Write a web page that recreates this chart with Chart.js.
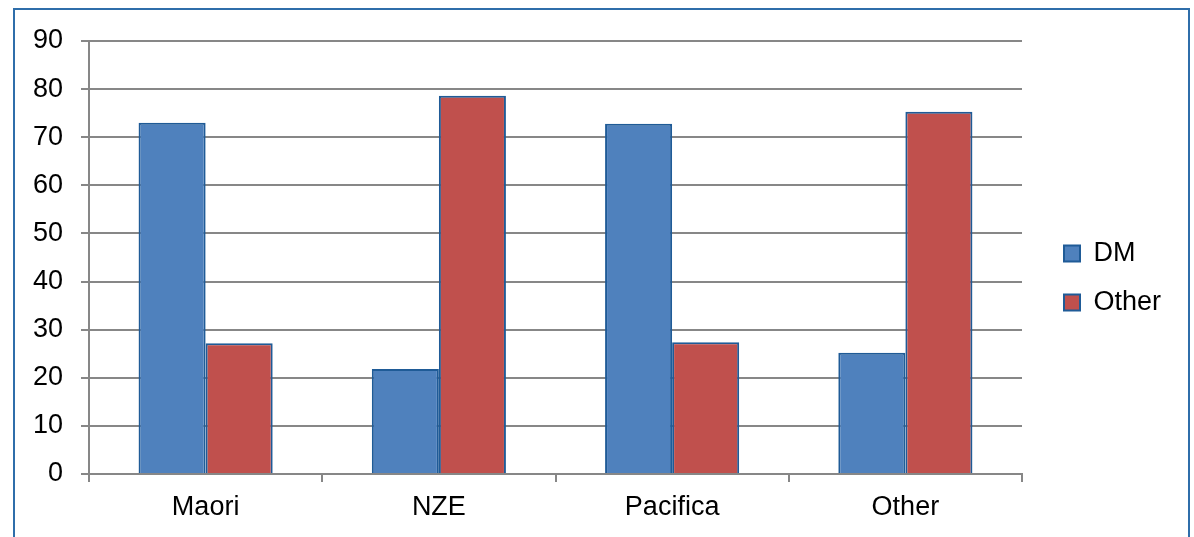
<!DOCTYPE html>
<html><head><meta charset="utf-8">
<script src="https://cdn.jsdelivr.net/npm/chart.js@4.4.1/dist/chart.umd.min.js"></script>
<style>
html,body{margin:0;padding:0;background:#fff;overflow:hidden;}
#frame{position:absolute;left:13px;top:8px;width:1177px;height:600px;border:2px solid #2f6eaa;box-sizing:border-box;}
#wrap{position:absolute;left:0;top:0;width:1194px;height:537px;}
</style></head>
<body>
<div id="frame"></div>
<div id="wrap"><canvas id="c" width="1194" height="537"></canvas></div>
<script>
const categories = ["Maori", "NZE", "Pacifica", "Other"];
const dmValues = [73.0, 21.8, 72.8, 25.2];
const otherValues = [27.2, 78.6, 27.4, 75.3];
const yTicks = [0, 10, 20, 30, 40, 50, 60, 70, 80, 90];

const font = {family: "'Liberation Sans', Arial, sans-serif", size: 27};
const gridColor = '#878787';

const legendShift = {
  id: 'legendShift',
  beforeLayout(chart) {
    const lg = chart.legend;
    if (lg && !lg._patched) {
      const f = lg.fit.bind(lg);
      lg.fit = function () { f(); this.width = 172; };
      lg._patched = true;
    }
  },
  afterLayout(chart) {
    const lg = chart.legend;
    lg.left = chart.chartArea.right + 20;
    lg.top = chart.chartArea.top - 11;
    lg.bottom = lg.top + lg.height;
  }
};

new Chart(document.getElementById('c'), {
  type: 'bar',
  data: {
    labels: categories,
    datasets: [
      {label: 'DM', data: dmValues, backgroundColor: '#4f81bd', borderColor: '#1f5b97', borderWidth: 2},
      {label: 'Other', data: otherValues, backgroundColor: '#c0504d', borderColor: '#1f5b97', borderWidth: 2}
    ]
  },
  options: {
    responsive: false,
    animation: false,
    devicePixelRatio: 1,
    layout: {padding: {top: 41, right: 0, bottom: 0, left: 0}},
    datasets: {bar: {barPercentage: 1, categoryPercentage: 0.575}},
    plugins: {
      tooltip: {enabled: false},
      legend: {
        position: 'right',
        align: 'center',
        labels: {font: font, color: '#000', boxWidth: 16, boxHeight: 16, padding: 22}
      }
    },
    scales: {
      x: {
        afterFit(s) { s.height = 63; },
        grid: {drawOnChartArea: false, drawTicks: true, tickLength: 8, color: gridColor, lineWidth: 2, offset: true},
        border: {display: true, color: gridColor, width: 2},
        ticks: {font: font, color: '#000', padding: 9}
      },
      y: {
        min: 0, max: 90,
        afterFit(s) { s.width = 89; },
        afterBuildTicks(s) { s.ticks = yTicks.map(v => ({value: v})); },
        grid: {color: gridColor, lineWidth: 2, tickLength: 8},
        border: {display: true, color: gridColor, width: 2},
        ticks: {font: font, color: '#000', padding: 18, stepSize: 10}
      }
    }
  },
  plugins: [legendShift]
});
</script>
</body></html>
